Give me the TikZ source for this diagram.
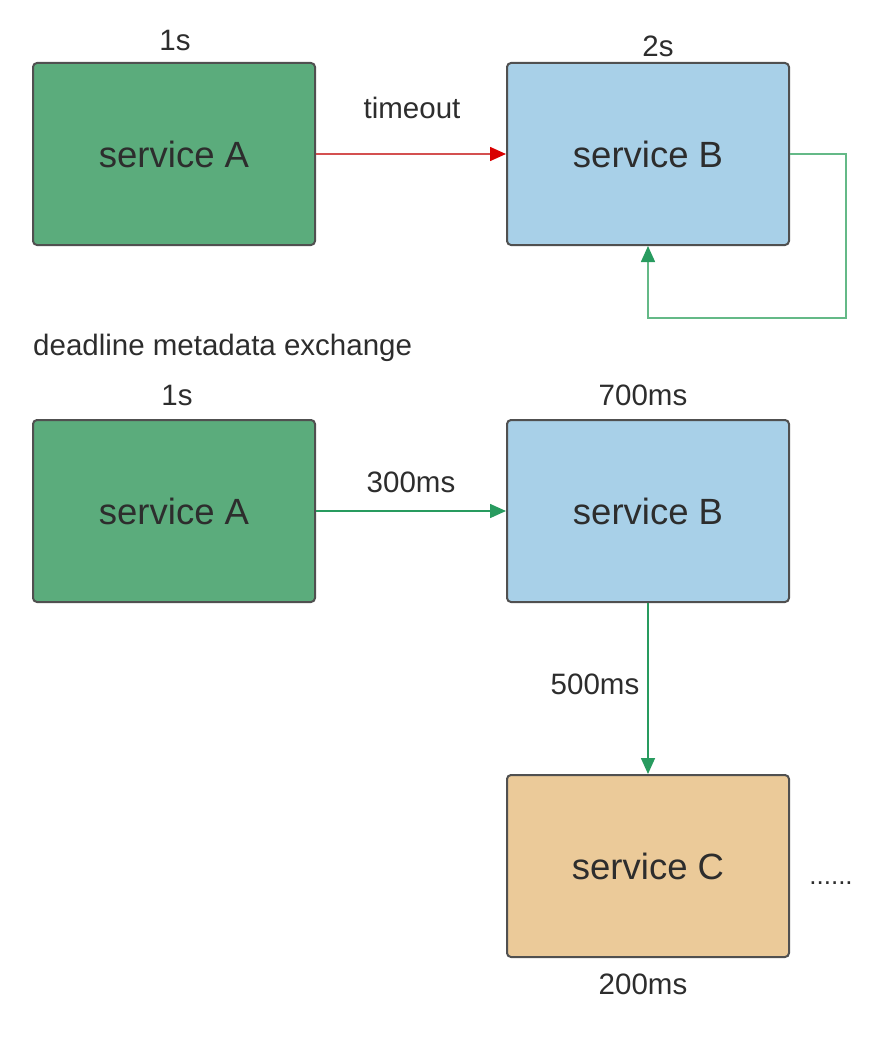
\documentclass[tikz,border=0pt]{standalone}
\usepackage{fontspec}
\setmainfont{Liberation Sans}
\usetikzlibrary{arrows.meta,positioning}
\definecolor{svcgreen}{RGB}{91,172,124}
\definecolor{svcblue}{RGB}{168,208,232}
\definecolor{svctan}{RGB}{235,202,153}
\definecolor{boxline}{RGB}{80,80,80}
\definecolor{textgray}{RGB}{45,45,45}
\definecolor{callred}{RGB}{212,80,80}
\definecolor{callgreen}{RGB}{40,155,95}
\definecolor{loopgreen}{RGB}{100,185,135}
\begin{document}
\begin{tikzpicture}[x=1pt,y=-1pt,
	svc/.style={draw=boxline,line width=2pt,rounded corners=4pt,minimum width=282pt,minimum height=182pt,font=\fontsize{36.5}{42}\selectfont,text=textgray},
	lbl/.style={inner sep=0pt,font=\fontsize{29.5}{34}\selectfont,text=textgray},
	call/.style={line width=1.6pt,-{Triangle[length=16pt,width=14pt]}}]
	\useasboundingbox (0,0) rectangle (874,1038);
	\node[svc,fill=svcgreen] (a1) at (174,154) {service A};
	\node[svc,fill=svcblue] (b1) at (648,154) {service B};
	\node[svc,fill=svcgreen] (a2) at (174,511) {service A};
	\node[svc,fill=svcblue] (b2) at (648,511) {service B};
	\node[svc,fill=svctan] (c2) at (648,866) {service C};
	\node[lbl] (a1t) at (175,40) {1s};
	\node[lbl] (b1t) at (658,46) {2s};
	\node[lbl] (tout) at (412,108) {timeout};
	\node[lbl,anchor=west] (dme) at (33,348) {deadline metadata exchange};
	\node[lbl] (a2t) at (177,395) {1s};
	\node[lbl] (b2t) at (643,395) {700ms};
	\node[lbl] (ab) at (411,482) {300ms};
	\node[lbl] (bc) at (595,684) {500ms};
	\node[lbl] (c2t) at (643,984) {200ms};
	\node[lbl,anchor=base,font=\fontsize{26}{30}\selectfont] (more) at (831,884) {......};
	\draw[call,draw=callred,-{Triangle[length=16pt,width=14pt,color=red!85!black]}] (a1) -- (b1);
	\draw[call,draw=loopgreen,-{Triangle[length=16pt,width=14pt,color=callgreen]}] (b1.east) -- ++(56,0) -- ++(0,164) -| (b1.south);
	\draw[call,draw=callgreen] (a2) -- (b2);
	\draw[call,draw=callgreen] (b2) -- (c2);
\end{tikzpicture}
\end{document}
